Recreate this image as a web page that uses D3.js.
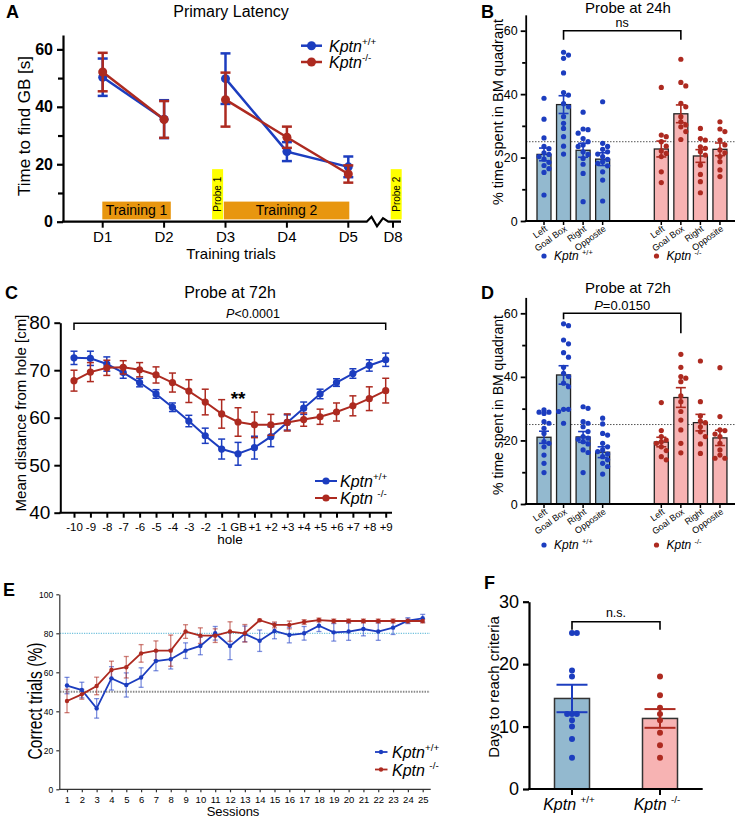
<!DOCTYPE html>
<html><head><meta charset="utf-8">
<script src="https://cdn.jsdelivr.net/npm/d3@7"></script>
<style>body{margin:0;background:#fff} svg{display:block} text{font-family:"Liberation Sans",Arial,Helvetica,sans-serif}</style>
</head><body><svg id="fig" width="736" height="821"></svg>
<script>
// ---------------- DATA ----------------
// Panel A: primary latency
const aDays = [1, 2, 3, 4, 5];
const aDayLabels = ["D1", "D2", "D3", "D4", "D5", "D8"];
const aDayTicks = [1, 2, 3, 4, 5, 8];
const aWT = [50.3, 35.7, 49.8, 24.4, 19.1];
const aWTerr = [6.5, 6.6, 8.8, 3.3, 3.6];
const aKO = [52.1, 35.6, 42.5, 29.4, 16.6];
const aKOerr = [6.7, 6.4, 9.4, 3.7, 3.0];
const aSegments = [[0, 1], [2, 3, 4]];

// Panel B: probe at 24h
const quadCats = ["Left", "Goal Box", "Right", "Opposite"];
const bWTmean = [21.0, 36.7, 22.3, 19.5];
const bWTsem = [2.0, 2.8, 2.2, 2.0];
const bKOmean = [22.7, 33.8, 20.5, 22.6];
const bKOsem = [2.5, 2.8, 2.0, 2.0];
const bWTpts = [
  [38.7, 32.1, 26.2, 23.5, 22.8, 21.5, 21.0, 20.3, 19.5, 18.5, 17.5, 16.5, 15.3, 8.2],
  [53.2, 52.3, 51.3, 46.7, 40.5, 39.7, 37.0, 36.0, 32.9, 30.8, 29.2, 26.6, 23.6, 21.1],
  [34.3, 29.0, 28.8, 27.7, 26.0, 25.0, 24.0, 23.5, 21.8, 21.0, 19.7, 17.9, 15.0, 6.1],
  [37.6, 24.5, 23.5, 22.6, 21.8, 21.1, 20.3, 19.4, 18.7, 18.2, 17.4, 15.5, 12.9, 6.3]
];
const bKOpts = [
  [42.1, 27.1, 26.6, 25.0, 23.6, 22.1, 21.3, 20.3, 15.5, 12.1],
  [51.0, 43.7, 42.6, 37.1, 36.0, 32.9, 31.3, 30.3, 29.7, 28.2, 25.7],
  [29.2, 26.0, 25.5, 23.4, 22.9, 21.8, 20.8, 17.6, 14.7, 12.4, 8.9],
  [31.3, 29.0, 28.2, 25.5, 24.0, 22.4, 21.5, 20.3, 18.7, 16.1, 14.0]
];

// Panel C: probe at 72h, distance from hole
const cHoles = ["-10","-9","-8","-7","-6","-5","-4","-3","-2","-1","GB","+1","+2","+3","+4","+5","+6","+7","+8","+9"];
const cWT = [72.6,72.5,71.3,69.5,67.4,65.0,62.2,59.3,56.2,53.4,52.4,53.7,56.0,59.0,62.0,65.0,67.4,69.3,71.0,72.2];
const cWTerr = [1.4,1.5,1.5,1.2,0.9,0.9,0.9,1.2,1.6,2.1,2.4,2.4,2.1,1.6,1.3,1.0,0.8,1.0,1.2,1.4];
const cKO = [67.8,69.6,70.5,70.6,70.1,69.0,67.4,65.6,63.3,60.8,59.1,58.5,58.5,59.0,59.6,60.2,61.2,62.5,64.0,65.7];
const cKOerr = [2.2,2.0,1.6,1.4,1.5,1.7,2.0,2.4,2.7,3.0,3.0,2.7,2.2,1.8,1.4,1.6,1.9,2.1,2.5,2.6];

// Panel D: probe at 72h, quadrants
const dWTmean = [21.0, 40.6, 21.1, 16.3];
const dWTsem = [1.9, 2.9, 1.7, 1.7];
const dKOmean = [19.5, 33.5, 25.6, 20.8];
const dKOsem = [1.5, 3.1, 2.6, 2.4];
const dWTpts = [
  [29.6, 28.9, 28.9, 28.5, 25.9, 25.4, 23.8, 22.2, 19.6, 19.1, 18.0, 15.4, 12.8, 9.9],
  [56.7, 56.1, 51.6, 50.4, 47.6, 46.2, 43.0, 41.1, 40.1, 38.0, 36.9, 29.8, 29.8, 29.1, 25.4],
  [30.6, 30.1, 25.9, 25.4, 24.3, 22.8, 21.2, 20.7, 20.4, 19.6, 18.9, 17.0, 16.2, 9.9],
  [27.0, 25.2, 22.2, 21.7, 19.1, 18.0, 17.0, 16.5, 15.7, 14.9, 13.9, 12.8, 11.8, 9.4]
];
const dKOpts = [
  [31.9, 23.1, 21.2, 20.1, 19.6, 19.1, 18.0, 16.8, 14.9, 13.9],
  [47.1, 43.0, 40.1, 39.6, 38.5, 34.0, 32.2, 29.1, 26.4, 23.3, 19.1, 16.1],
  [45.0, 32.2, 27.7, 26.1, 25.6, 24.3, 22.7, 21.2, 18.9, 15.9],
  [42.9, 27.5, 23.3, 23.1, 22.0, 21.2, 19.1, 17.0, 15.4, 14.4, 14.4]
];

// Panel E: correct trials per session
const eSessions = d3.range(1, 26);
const eWT = [53.2,50.9,41.5,56.9,53.5,57.3,65.8,66.7,71.1,73.5,80.0,73.5,79.7,76.2,81.2,79.1,80.0,83.9,80.5,80.9,82.2,80.9,82.9,86.5,87.7];
const eWTerr = [4.2,4.0,5.0,6.0,6.2,5.0,5.0,5.0,4.0,4.5,3.5,7.0,4.0,5.5,4.0,4.0,3.5,3.0,4.5,4.5,3.5,4.5,3.5,1.5,2.0];
const eKO = [45.3,48.7,53.0,61.2,62.6,69.7,71.1,71.1,80.9,78.8,78.8,80.9,80.0,86.7,84.3,84.3,85.8,86.8,86.3,86.3,86.3,86.3,86.3,86.3,86.3];
const eKOerr = [6.0,2.5,4.5,4.5,5.5,4.5,5.0,8.0,3.5,4.0,3.5,5.0,4.5,0.5,1.5,2.0,1.2,1.0,1.0,1.0,1.0,1.0,1.0,1.0,1.0];

// Panel F: days to reach criteria
const fGroups = ["+/+", "-/-"];
const fMean = [14.5, 11.3];
const fSem = [2.2, 1.5];
const fWTpts = [25, 25, 19, 18, 12, 12, 12, 11, 10, 8, 5];
const fKOpts = [18, 15, 13, 12, 11, 9, 7, 5];

// ---------------- STYLE ----------------
const BLUE = "#1c3dbf", RED = "#ad2a20";
const BARBLUE = "#93b9cf", BARRED = "#f7b3b3";
const ORANGE = "#e8960f", YELLOW = "#ffff00";
const svg = d3.select("#fig");
svg.append("rect").attr("width", 736).attr("height", 821).attr("fill", "#fff");

function kptn(t, sup, size, space) {
  t.append("tspan").attr("font-style", "italic").text("Kptn" + (space ? " " : ""));
  t.append("tspan").attr("font-size", size * 0.62).attr("dy", -size * 0.42).text(sup);
}
function panelLabel(x, y, s) {
  svg.append("text").attr("x", x).attr("y", y).attr("font-size", 18).attr("font-weight", "bold").text(s);
}
function styleAxis(g, w, fs, color, bold) {
  g.attr("font-family", null).attr("font-size", null);
  g.select(".domain").attr("stroke", color || "#000").attr("stroke-width", w);
  g.selectAll(".tick line").attr("stroke", color || "#000").attr("stroke-width", w);
  g.selectAll(".tick text").attr("font-size", fs).attr("fill", "#000").attr("font-weight", bold ? "bold" : null);
}
function swarm(vals, y, r, maxOff) {
  const idx = d3.range(vals.length).sort((a, b) => vals[b] - vals[a]);
  const placed = [], off = new Array(vals.length).fill(0);
  const s = r * 1.9;
  for (const i of idx) {
    const py = y(vals[i]);
    let best = 0, bestC = 1e9;
    for (const c of [0, s, -s, 2 * s, -2 * s, 1.5 * s, -1.5 * s, 0.5 * s, -0.5 * s]) {
      if (Math.abs(c) > maxOff) continue;
      let coll = 0;
      for (const p of placed) {
        const dx = p.x - c, dy = p.y - py;
        if (dx * dx + dy * dy < (2 * r * 0.95) ** 2) coll++;
      }
      if (coll === 0) { best = c; bestC = 0; break; }
      if (coll < bestC) { bestC = coll; best = c; }
    }
    off[i] = best;
    placed.push({ x: best, y: py });
  }
  return off;
}

// ---------------- PANEL A ----------------
(function () {
  panelLabel(6, 18, "A");
  svg.append("text").attr("x", 231).attr("y", 17).attr("text-anchor", "middle").attr("font-size", 16).text("Primary Latency");
  const x = d3.scaleLinear().domain([1, 5, 8]).range([102.7, 348.3, 393]);
  const y = d3.scaleLinear().domain([0, 65]).range([221.7, 35]);
  const g = svg.append("g");
  const tr = [
    { t: "Training 1", x0: x(1) - 0.4, x1: x(2) + 6.7 },
    { t: "Training 2", x0: x(3) - 1.7, x1: x(5) + 1 }
  ];
  tr.forEach(b => {
    g.append("rect").attr("x", b.x0).attr("y", y(7)).attr("width", b.x1 - b.x0).attr("height", y(0.8) - y(7)).attr("fill", ORANGE);
    g.append("text").attr("x", (b.x0 + b.x1) / 2).attr("y", (y(7) + y(0.8)) / 2 + 5).attr("text-anchor", "middle").attr("font-size", 14).text(b.t);
  });
  const pr = [
    { t: "Probe 1", x0: x(3) - 13.4, x1: x(3) - 2.4 },
    { t: "Probe 2", x0: x(8) - 2.3, x1: x(8) + 8.7 }
  ];
  pr.forEach(b => {
    g.append("rect").attr("x", b.x0).attr("y", y(18.3)).attr("width", b.x1 - b.x0).attr("height", y(0.8) - y(18.3)).attr("fill", YELLOW);
    const cx = (b.x0 + b.x1) / 2 + 3.5, cy = (y(18.3) + y(0.8)) / 2;
    g.append("text").attr("transform", `translate(${cx},${cy}) rotate(-90)`).attr("text-anchor", "middle").attr("font-size", 10).text(b.t);
  });
  const ya = g.append("g").attr("transform", "translate(63,0)").call(d3.axisLeft(y).tickValues([0, 20, 40, 60]).tickSize(6).tickSizeOuter(0).tickPadding(4));
  styleAxis(ya, 2.2, 16, "#000", true);
  const ym = g.append("g").attr("transform", "translate(63,0)").call(d3.axisLeft(y).tickValues([10, 30, 50]).tickSize(5).tickFormat(""));
  ym.select(".domain").remove();
  ym.selectAll("line").attr("stroke", "#000").attr("stroke-width", 2.2);
  const y0 = y(0);
  g.append("path").attr("d", `M62,${y0}H366.7L371.5,${y0 - 5}L377,${y0 + 4.5}L383,${y0 - 3.5}L388.3,${y0}H401`).attr("fill", "none").attr("stroke", "#000").attr("stroke-width", 2.2);
  aDayTicks.forEach((d, i) => {
    g.append("line").attr("x1", x(d)).attr("x2", x(d)).attr("y1", y0).attr("y2", y0 + 6).attr("stroke", "#000").attr("stroke-width", 2);
    g.append("text").attr("x", x(d)).attr("y", y0 + 20).attr("text-anchor", "middle").attr("font-size", 15).text(aDayLabels[i]);
  });
  g.append("text").attr("x", 231).attr("y", 259).attr("text-anchor", "middle").attr("font-size", 15).text("Training trials");
  g.append("text").attr("transform", "translate(30,126) rotate(-90)").attr("text-anchor", "middle").attr("font-size", 17).text("Time to find GB [s]");
  const series = [{ v: aWT, e: aWTerr, c: BLUE }, { v: aKO, e: aKOerr, c: RED }];
  series.forEach(s => {
    aSegments.forEach(seg => {
      g.append("path").attr("d", d3.line().x(i => x(aDays[i])).y(i => y(s.v[i]))(seg)).attr("fill", "none").attr("stroke", s.c).attr("stroke-width", 2.5);
    });
    s.v.forEach((v, i) => {
      const cx = x(aDays[i]);
      g.append("line").attr("x1", cx).attr("x2", cx).attr("y1", y(v - s.e[i])).attr("y2", y(v + s.e[i])).attr("stroke", s.c).attr("stroke-width", 2.5);
      [v - s.e[i], v + s.e[i]].forEach(b => g.append("line").attr("x1", cx - 5).attr("x2", cx + 5).attr("y1", y(b)).attr("y2", y(b)).attr("stroke", s.c).attr("stroke-width", 2.5));
      g.append("circle").attr("cx", cx).attr("cy", y(v)).attr("r", 4.5).attr("fill", s.c);
    });
  });
  [{ c: BLUE, sup: "+/+", yy: 45.7 }, { c: RED, sup: "-/-", yy: 62 }].forEach(l => {
    g.append("line").attr("x1", 301).attr("x2", 322).attr("y1", l.yy).attr("y2", l.yy).attr("stroke", l.c).attr("stroke-width", 2.5);
    g.append("circle").attr("cx", 311.5).attr("cy", l.yy).attr("r", 4.5).attr("fill", l.c);
    kptn(g.append("text").attr("x", 329).attr("y", l.yy + 6).attr("font-size", 16), l.sup, 16, false);
  });
})();

// ---------------- PANELS B & D ----------------
function quadPanel(o) {
  panelLabel(o.lx, o.ly, o.letter);
  svg.append("text").attr("x", 628).attr("y", o.titleY).attr("text-anchor", "middle").attr("font-size", 15).text(o.title);
  const g = svg.append("g");
  const pos = [0, 1, 2, 3, 6, 7, 8, 9];
  const x = d3.scaleLinear().domain([0, 9]).range([544, 544 + 9 * 19.55]);
  const y = d3.scaleLinear().domain([0, 65]).range([o.y0, o.y0 - (o.y0 - o.y60) * 65 / 60]);
  const bw = 14;
  g.append("line").attr("x1", 526).attr("x2", 736).attr("y1", y(25)).attr("y2", y(25)).attr("stroke", "#555").attr("stroke-width", 1).attr("stroke-dasharray", "1.5,1.5");
  const groups = [
    { m: o.wtM, s: o.wtS, p: o.wtP, c: BLUE, f: BARBLUE, pos: pos.slice(0, 4) },
    { m: o.koM, s: o.koS, p: o.koP, c: RED, f: BARRED, pos: pos.slice(4) }
  ];
  groups.forEach(gr => {
    gr.m.forEach((m, i) => {
      const cx = x(gr.pos[i]);
      g.append("rect").attr("x", cx - bw / 2).attr("y", y(m)).attr("width", bw).attr("height", y(0) - y(m)).attr("fill", gr.f).attr("stroke", "#222").attr("stroke-width", 1.3);
      const offs = swarm(gr.p[i], y, 2.6, 8);
      gr.p[i].forEach((v, k) => g.append("circle").attr("cx", cx + offs[k]).attr("cy", y(v)).attr("r", 2.6).attr("fill", gr.c));
      g.append("line").attr("x1", cx).attr("x2", cx).attr("y1", y(m - gr.s[i])).attr("y2", y(m + gr.s[i])).attr("stroke", gr.c).attr("stroke-width", 1.6);
      [m - gr.s[i], m + gr.s[i]].forEach(b => g.append("line").attr("x1", cx - 5).attr("x2", cx + 5).attr("y1", y(b)).attr("y2", y(b)).attr("stroke", gr.c).attr("stroke-width", 1.6));
    });
  });
  const ya = g.append("g").attr("transform", "translate(525.7,0)").call(d3.axisLeft(y).tickValues([0, 20, 40, 60]).tickSize(5).tickSizeOuter(0).tickPadding(3));
  styleAxis(ya, 1.8, 12.5, "#000", false);
  const ym = g.append("g").attr("transform", "translate(525.7,0)").call(d3.axisLeft(y).tickValues([10, 30, 50]).tickSize(3.5).tickFormat(""));
  ym.select(".domain").remove();
  ym.selectAll("line").attr("stroke", "#000").attr("stroke-width", 1.8);
  g.append("line").attr("x1", 524.8).attr("x2", 735).attr("y1", y(0)).attr("y2", y(0)).attr("stroke", "#000").attr("stroke-width", 1.8);
  pos.forEach((p, i) => {
    const cx = x(p);
    g.append("line").attr("x1", cx).attr("x2", cx).attr("y1", y(0)).attr("y2", y(0) + 4).attr("stroke", "#000").attr("stroke-width", 1.5);
    g.append("text").attr("transform", `translate(${cx + 4},${y(0) + 9}) rotate(-36)`).attr("text-anchor", "end").attr("font-size", 9).text(quadCats[i % 4]);
  });
  g.append("text").attr("transform", `translate(503,${o.labY}) rotate(-90)`).attr("text-anchor", "middle").attr("font-size", o.labFs).text("% time spent in BM quadrant");
  const bx0 = x(1), bx1 = x(7), by = y(60);
  g.append("path").attr("d", `M${bx0},${by + o.brL}V${by}H${bx1}V${by + o.brR}`).attr("fill", "none").attr("stroke", "#000").attr("stroke-width", 1.6);
  const st = g.append("text").attr("x", (bx0 + bx1) / 2).attr("y", by - 3.5).attr("text-anchor", "middle").attr("font-size", o.statFs);
  if (o.stat === "ns") st.text("ns");
  else { st.append("tspan").attr("font-style", "italic").text("P"); st.append("tspan").text(o.stat); }
  [{ c: BLUE, sup: "+/+", cx: 544 }, { c: RED, sup: "-/-", cx: 656.5 }].forEach(l => {
    g.append("circle").attr("cx", l.cx).attr("cy", o.legY - 4).attr("r", 2.6).attr("fill", l.c);
    kptn(g.append("text").attr("x", l.cx + 10).attr("y", o.legY).attr("font-size", 12), l.sup, 12, true);
  });
}
quadPanel({ letter: "B", lx: 481, ly: 18, title: "Probe at 24h", titleY: 13, y0: 221, y60: 30.7,
  wtM: bWTmean, wtS: bWTsem, wtP: bWTpts, koM: bKOmean, koS: bKOsem, koP: bKOpts,
  stat: "ns", statFs: 12.5, brL: 9, brR: 9, labY: 112, labFs: 14.5, legY: 260 });
quadPanel({ letter: "D", lx: 481, ly: 299, title: "Probe at 72h", titleY: 293, y0: 504, y60: 313.3,
  wtM: dWTmean, wtS: dWTsem, wtP: dWTpts, koM: dKOmean, koS: dKOsem, koP: dKOpts,
  stat: "=0.0150", statFs: 13, brL: 6, brR: 20, labY: 405, labFs: 14, legY: 549 });

// ---------------- PANEL C ----------------
(function () {
  panelLabel(5, 299, "C");
  svg.append("text").attr("x", 230).attr("y", 298).attr("text-anchor", "middle").attr("font-size", 16).text("Probe at 72h");
  const g = svg.append("g");
  const x = d3.scalePoint().domain(cHoles).range([74, 385.7]);
  const y = d3.scaleLinear().domain([40, 80]).range([512.7, 322.7]);
  const ya = g.append("g").attr("transform", "translate(60.3,0)").call(d3.axisLeft(y).tickValues([40, 50, 60, 70, 80]).tickSize(6).tickSizeOuter(0).tickPadding(4));
  styleAxis(ya, 2, 19, "#000", false);
  const xa = g.append("g").attr("transform", "translate(0,512.7)").call(d3.axisBottom(x).tickSize(5).tickSizeOuter(0).tickPadding(5));
  styleAxis(xa, 2, 11.5, "#000", false);
  xa.select(".domain").attr("d", "M59.3,0H392");
  g.append("text").attr("x", 230).attr("y", 544).attr("text-anchor", "middle").attr("font-size", 13.5).text("hole");
  g.append("text").attr("transform", "translate(26,413) rotate(-90)").attr("text-anchor", "middle").attr("font-size", 15).text("Mean distance from hole [cm]");
  g.append("path").attr("d", `M${x("-10")},330V323.3H${x("+9")}V330`).attr("fill", "none").attr("stroke", "#000").attr("stroke-width", 1.5);
  const pt = g.append("text").attr("x", 253).attr("y", 318).attr("text-anchor", "middle").attr("font-size", 12.5);
  pt.append("tspan").attr("font-style", "italic").text("P"); pt.append("tspan").text("<0.0001");
  g.append("text").attr("x", x("GB")).attr("y", 405).attr("text-anchor", "middle").attr("font-size", 19).attr("font-weight", "bold").text("**");
  const series = [{ v: cWT, e: cWTerr, c: BLUE }, { v: cKO, e: cKOerr, c: RED }];
  series.forEach(s => {
    g.append("path").attr("d", d3.line().x((d, i) => x(cHoles[i])).y(d => y(d))(s.v)).attr("fill", "none").attr("stroke", s.c).attr("stroke-width", 2);
    s.v.forEach((v, i) => {
      const cx = x(cHoles[i]);
      g.append("line").attr("x1", cx).attr("x2", cx).attr("y1", y(v - s.e[i])).attr("y2", y(v + s.e[i])).attr("stroke", s.c).attr("stroke-width", 1.5);
      [v - s.e[i], v + s.e[i]].forEach(b => g.append("line").attr("x1", cx - 3.5).attr("x2", cx + 3.5).attr("y1", y(b)).attr("y2", y(b)).attr("stroke", s.c).attr("stroke-width", 1.5));
      g.append("circle").attr("cx", cx).attr("cy", y(v)).attr("r", 3.6).attr("fill", s.c);
    });
  });
  [{ c: BLUE, sup: "+/+", yy: 481 }, { c: RED, sup: "-/-", yy: 498 }].forEach(l => {
    g.append("line").attr("x1", 315).attr("x2", 337).attr("y1", l.yy).attr("y2", l.yy).attr("stroke", l.c).attr("stroke-width", 2);
    g.append("circle").attr("cx", 326).attr("cy", l.yy).attr("r", 3.6).attr("fill", l.c);
    kptn(g.append("text").attr("x", 340).attr("y", l.yy + 6).attr("font-size", 16), l.sup, 16, l.sup === "-/-");
  });
})();

// ---------------- PANEL E ----------------
(function () {
  panelLabel(3, 596, "E");
  const g = svg.append("g");
  const x = d3.scaleLinear().domain([1, 25]).range([67, 422.7]);
  const y = d3.scaleLinear().domain([0, 100]).range([789.3, 594.3]);
  g.append("line").attr("x1", 60).attr("x2", 430).attr("y1", y(80)).attr("y2", y(80)).attr("stroke", "#4fb2d4").attr("stroke-width", 1).attr("stroke-dasharray", "1.2,1.2");
  g.append("line").attr("x1", 60).attr("x2", 430).attr("y1", y(50)).attr("y2", y(50)).attr("stroke", "#8a8a8a").attr("stroke-width", 2).attr("stroke-dasharray", "1.5,1.2");
  const ya = g.append("g").attr("transform", "translate(59.3,0)").call(d3.axisLeft(y).tickValues([0, 20, 40, 60, 80, 100]).tickSize(3).tickSizeOuter(0).tickPadding(3));
  styleAxis(ya, 1.2, 8.5, "#333", false);
  const xa = g.append("g").attr("transform", "translate(0,789.3)").call(d3.axisBottom(x).tickValues(eSessions).tickFormat(d3.format("d")).tickSize(3).tickSizeOuter(0).tickPadding(4));
  styleAxis(xa, 1.2, 9.5, "#333", false);
  xa.select(".domain").attr("d", "M59.3,0H430.7");
  g.append("text").attr("x", 233).attr("y", 816).attr("text-anchor", "middle").attr("font-size", 13).text("Sessions");
  g.append("text").attr("transform", "translate(42,701) rotate(-90) scale(0.78,1)").attr("text-anchor", "middle").attr("font-size", 20).text("Correct trials (%)");
  const series = [{ v: eWT, e: eWTerr, c: BLUE, ec: "rgba(40,70,200,0.6)" }, { v: eKO, e: eKOerr, c: RED, ec: "rgba(175,45,35,0.6)" }];
  series.forEach(s => {
    s.v.forEach((v, i) => {
      const cx = x(eSessions[i]);
      g.append("line").attr("x1", cx).attr("x2", cx).attr("y1", y(v - s.e[i])).attr("y2", y(v + s.e[i])).attr("stroke", s.ec).attr("stroke-width", 1.3);
      [v - s.e[i], v + s.e[i]].forEach(b => g.append("line").attr("x1", cx - 2.5).attr("x2", cx + 2.5).attr("y1", y(b)).attr("y2", y(b)).attr("stroke", s.ec).attr("stroke-width", 1.3));
    });
  });
  series.forEach(s => {
    g.append("path").attr("d", d3.line().x((d, i) => x(eSessions[i])).y(d => y(d))(s.v)).attr("fill", "none").attr("stroke", s.c).attr("stroke-width", 1.8);
    s.v.forEach((v, i) => g.append("circle").attr("cx", x(eSessions[i])).attr("cy", y(v)).attr("r", 2.2).attr("fill", s.c));
  });
  [{ c: BLUE, sup: "+/+", yy: 752 }, { c: RED, sup: "-/-", yy: 769.5 }].forEach(l => {
    g.append("line").attr("x1", 375).attr("x2", 387.5).attr("y1", l.yy).attr("y2", l.yy).attr("stroke", l.c).attr("stroke-width", 1.8);
    g.append("circle").attr("cx", 381).attr("cy", l.yy).attr("r", 2.2).attr("fill", l.c);
    kptn(g.append("text").attr("x", 392).attr("y", l.yy + 6).attr("font-size", 16), l.sup, 16, l.sup === "-/-");
  });
})();

// ---------------- PANEL F ----------------
(function () {
  panelLabel(484, 589, "F");
  const g = svg.append("g");
  const x = d3.scalePoint().domain(fGroups).range([572, 660]);
  const y = d3.scaleLinear().domain([0, 30]).range([789, 601.7]);
  const bw = 35;
  const grs = [{ p: fWTpts, c: BLUE, f: BARBLUE }, { p: fKOpts, c: RED, f: BARRED }];
  fGroups.forEach((gname, i) => {
    const cx = x(gname), m = fMean[i], gr = grs[i];
    g.append("rect").attr("x", cx - bw / 2).attr("y", y(m)).attr("width", bw).attr("height", y(0) - y(m)).attr("fill", gr.f).attr("stroke", "#333").attr("stroke-width", 1.5);
    const offs = swarm(gr.p, y, 3, 10);
    gr.p.forEach((v, k) => g.append("circle").attr("cx", cx + offs[k] * 0.85).attr("cy", y(v)).attr("r", 3).attr("fill", gr.c));
    g.append("line").attr("x1", cx).attr("x2", cx).attr("y1", y(m - fSem[i])).attr("y2", y(m + fSem[i])).attr("stroke", gr.c).attr("stroke-width", 2);
    [m - fSem[i], m + fSem[i]].forEach(b => g.append("line").attr("x1", cx - 15.5).attr("x2", cx + 15.5).attr("y1", y(b)).attr("y2", y(b)).attr("stroke", gr.c).attr("stroke-width", 2));
    kptn(g.append("text").attr("x", cx - 3).attr("y", 810).attr("text-anchor", "middle").attr("font-size", 16), gname, 16, true);
  });
  const ya = g.append("g").attr("transform", "translate(529,0)").call(d3.axisLeft(y).tickValues([0, 10, 20, 30]).tickSize(6).tickSizeOuter(0).tickPadding(4));
  styleAxis(ya, 2.2, 18, "#000", false);
  g.append("line").attr("x1", 528).attr("x2", 702.7).attr("y1", y(0)).attr("y2", y(0)).attr("stroke", "#000").attr("stroke-width", 2.2);
  fGroups.forEach(gname => g.append("line").attr("x1", x(gname)).attr("x2", x(gname)).attr("y1", y(0)).attr("y2", y(0) + 6).attr("stroke", "#000").attr("stroke-width", 2));
  g.append("text").attr("transform", "translate(499,687) rotate(-90)").attr("text-anchor", "middle").attr("font-size", 15).text("Days to reach criteria");
  const by = y(26.8);
  g.append("path").attr("d", `M${x(fGroups[0])},${by + 8}V${by}H${x(fGroups[1])}V${by + 8}`).attr("fill", "none").attr("stroke", "#000").attr("stroke-width", 1.6);
  g.append("text").attr("x", 616).attr("y", by - 5).attr("text-anchor", "middle").attr("font-size", 12.5).text("n.s.");
})();
</script></body></html>
